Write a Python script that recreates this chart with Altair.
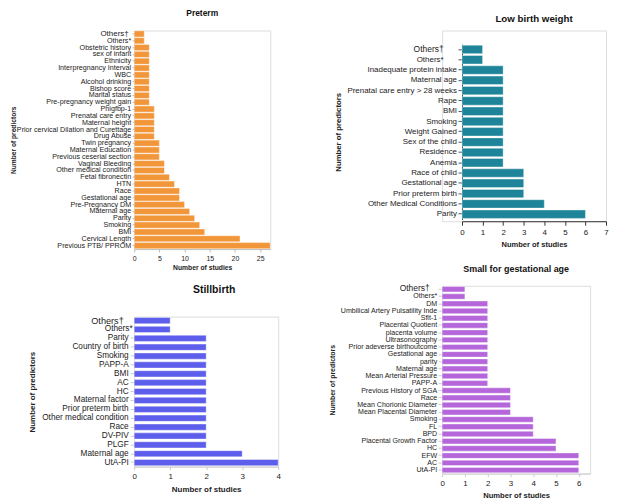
import altair as alt
import pandas as pd

FONT = "Liberation Sans"
TXT = "#222222"

# ---------------- data ----------------
pt_labels = ["Others†", "Others*", "Obstetric history", "sex of infant", "Ethnicity",
             "Interpregnancy Interval", "WBC", "Alcohol drinking", "Bishop score",
             "Marital status", "Pre-pregnancy weight gain", "Phigfbp-1", "Prenatal care entry",
             "Maternal height", "Prior cervical Dilation and Curettage", "Drug Abuse",
             "Twin pregnancy", "Maternal Education", "Previous ceserial section",
             "Vaginal Bleeding", "Other medical condition", "Fetal fibronectin", "HTN", "Race",
             "Gestational age", "Pre-Pregnancy DM", "Maternal age", "Parity", "Smoking", "BMI",
             "Cervical Length", "Previous PTB/ PPROM"]
pt_values = [2, 2, 3, 3, 3, 3, 3, 3, 3, 3, 3, 4, 4, 4, 4, 4, 5, 5, 5, 6, 6, 7, 8, 9, 9, 10,
             11, 12, 13, 14, 21, 27]

lbw_labels = ["Others†", "Others*", "Inadequate protein intake", "Maternal age",
              "Prenatal care entry > 28 weeks", "Rape", "BMI", "Smoking", "Weight Gained",
              "Sex of the child", "Residence", "Anemia", "Race of child", "Gestational age",
              "Prior preterm birth", "Other Medical Conditions", "Parity"]
lbw_values = [1, 1, 2, 2, 2, 2, 2, 2, 2, 2, 2, 2, 3, 3, 3, 4, 6]

sb_labels = ["Others†", "Others*", "Parity", "Country of birth", "Smoking", "PAPP-A", "BMI",
             "AC", "HC", "Maternal factor", "Prior preterm birth", "Other medical condition",
             "Race", "DV-PIV", "PLGF", "Maternal age", "UtA-PI"]
sb_values = [1, 1, 2, 2, 2, 2, 2, 2, 2, 2, 2, 2, 2, 2, 2, 3, 4]

sga_labels = ["Others†", "Others*", "DM", "Umbilical Artery Pulsatility Inde", "Sflt-1",
              "Placental Quotient", "placenta volume", "Ultrasonography",
              "Prior adeverse birthoutcome", "Gestational age", "parity", "Maternal age",
              "Mean Arterial Pressure", "PAPP-A", "Previous History of SGA", "Race",
              "Mean Chorionic Diameter", "Mean Placental Diameter", "Smoking", "FL", "BPD",
              "Placental Growth Factor", "HC", "EFW", "AC", "UtA-PI"]
sga_values = [1, 1, 2, 2, 2, 2, 2, 2, 2, 2, 2, 2, 2, 2, 3, 3, 3, 3, 4, 4, 4, 5, 5, 6, 6, 6]

DAG = "datum.value === 'Others†'"
OTH = "indexof(datum.value, 'Others') === 0"


def cond(test, yes, no):
    return {"condition": {"test": test, "value": yes}, "value": no}


def panel(labels, values, color, title, title_size, title_offset, title_dx,
          width, height, xdomain, xticks, xrange, yrange, pad_inner, pad_outer,
          ylab_size, ylab_pad, ytick, ytick_color, ydomain, ydomain_color, yextent,
          ytitle_size, ytitle, yoffset,
          xlab_size, xtick, xlab_pad, xtitle_size, xtitle_pad, xdomain_color,
          ylab_offset=0):
    df = pd.DataFrame({"label": labels, "value": values})
    xs = dict(domain=xdomain, nice=False)
    if xrange is not None:
        xs["range"] = xrange
    ys = dict(paddingInner=pad_inner, paddingOuter=pad_outer)
    if yrange is not None:
        ys["range"] = yrange
    yaxis = dict(
        title=ytitle, titleFont=FONT, titleFontSize=ytitle_size, titleFontWeight="bold",
        titleColor=TXT, titlePadding=4,
        labelFont=FONT, labelFontSize=ylab_size, labelPadding=ylab_pad, labelColor=TXT,
        labelLimit=300,
        tickSize=ytick, tickColor=ytick_color, domain=ydomain, domainColor=ydomain_color,
        minExtent=yextent, maxExtent=yextent,
    )
    if ylab_offset:
        yaxis["labelOffset"] = ylab_offset
    if yoffset:
        yaxis["offset"] = yoffset
    return alt.Chart(df).mark_bar(color=color, stroke="white", strokeWidth=0.4).encode(
        x=alt.X("value:Q", scale=alt.Scale(**xs),
                axis=alt.Axis(values=xticks, format="d", title="Number of studies",
                              titleFont=FONT, titleFontSize=xtitle_size,
                              titleFontWeight="bold", titleColor=TXT,
                              titlePadding=xtitle_pad, labelFont=FONT,
                              labelFontSize=xlab_size, labelColor=TXT,
                              labelPadding=xlab_pad, labelFlush=False, tickSize=xtick,
                              tickColor=xdomain_color, domainColor=xdomain_color,
                              grid=False)),
        y=alt.Y("label:N", sort=labels, scale=alt.Scale(**ys), axis=alt.Axis(**yaxis)),
    ).properties(
        width=width, height=height,
        title=alt.TitleParams(title, font=FONT, fontSize=title_size, fontWeight="bold",
                              color="#111111", anchor="middle", frame="group",
                              offset=title_offset, dx=title_dx),
    )


preterm = panel(
    pt_labels, pt_values, "#F2963A", "Preterm", 8.5, 12, 0,
    137, 220, [0, 27], [0, 5, 10, 15, 20, 25], None, None, 0.1, 0.05,
    cond(DAG, 8.0, 7.2), cond(DAG, 4, 1.5), 2, "#aaaaaa", False, "#888", 114,
    6.7, "Number of predictors", 0,
    7, 3, 3, 6.8, 3, "#bbbbbb")

stillbirth = panel(
    sb_labels, sb_values, "#5E5EEC", "Stillbirth", 10.5, 21, 8,
    145, 151, [0, 4], [0, 1, 2, 3, 4], None, None, 0.3, 0.1,
    cond(DAG, 9.2, 8.3), cond(DAG, 11, 2), cond(OTH, 0, 4), "#cccccc", False, "#888", 94,
    8, "Number of predictors", 0,
    8, 3, 2.5, 8, 6, "#cccccc")

lbw = panel(
    lbw_labels, lbw_values, "#1E8499", "Low birth weight", 9.8, 7, 10,
    165, 192, [0, 7], [0, 1, 2, 3, 4, 5, 6, 7], [20, 165], [13.8, 190.2], 0.18, 0.1,
    cond(DAG, 8.5, 8), cond(OTH, 15, 1.5), 4, "#555555", True, "#333333", 116,
    7.8, "Number of predictors", -20,
    8, 4, 3, 7.6, 4, "#333333")

sga = panel(
    sga_labels, sga_values, "#B466DA", "Small for gestational age", 9, 9, 0,
    149, 189, [0, 6.5], [0, 1, 2, 3, 4, 5, 6], None, None, 0.25, 0.1,
    cond(DAG, 8.5, 7.1), cond(DAG, 9, 1.5), 4, "#cccccc", False, "#888", 103,
    7, "Number of predictors", 0,
    8, 3, 3, 7.7, 4, "#cccccc", ylab_offset=cond(DAG, -1.6, 0))

left = alt.vconcat(preterm, stillbirth, spacing=11)
right = alt.vconcat(lbw, sga, spacing=15)

chart = alt.hconcat(left, right, spacing=47).properties(
    padding={"left": 2, "top": -2, "right": 2, "bottom": 2}
).configure_view(stroke=None).configure(background="white")

chart.save("out.html", embed_options={"renderer": "svg", "actions": False})
